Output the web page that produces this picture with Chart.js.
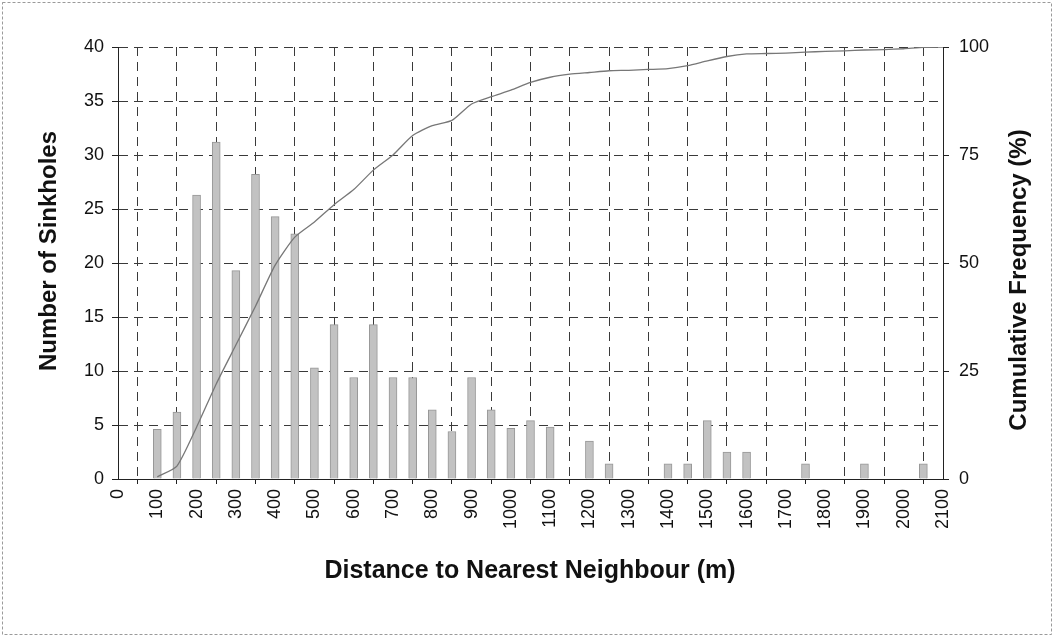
<!DOCTYPE html>
<html>
<head>
<meta charset="utf-8">
<script src="https://cdn.jsdelivr.net/npm/chart.js@4"></script>
<style>
  html, body { margin: 0; padding: 0; background: #fff; }
  canvas { display: block; }
</style>
</head>
<body>
<canvas id="chart" width="1054" height="637"></canvas>
<script>
// bar positions (m) and counts
const distances = [100, 150, 200, 250, 300, 350, 400, 450, 500, 550, 600, 650, 700, 750, 800, 850, 900, 950, 1000, 1050,
    1100, 1150, 1200, 1250, 1300, 1350, 1400, 1450, 1500, 1550, 1600, 1650, 1700, 1750, 1800, 1850, 1900, 1950, 2000, 2050, 2100];
const sinkholes = [4.6, 6.2, 26.3, 31.2, 19.3, 28.2, 24.3, 22.7, 10.3, 14.3, 9.4, 14.3, 9.4, 9.4, 6.4, 4.4, 9.4, 6.4, 4.7, 5.4,
    4.8, 0, 3.5, 1.4, 0, 0, 1.4, 1.4, 5.4, 2.5, 2.5, 0, 0, 1.4, 0, 0, 1.4, 0, 0, 1.4, 0];
// cumulative frequency (%) at the same distances
const cumulative = [0.5, 3, 12, 22, 31, 40, 49.5, 56, 59.5, 63.5, 67, 71.5, 75, 79.5, 81.8, 83, 86.8, 88.5, 90, 91.8,
    93, 93.7, 94.1, 94.5, 94.6, 94.8, 95, 95.7, 96.8, 97.8, 98.4, 98.5, 98.6, 98.8, 99, 99.1, 99.3, 99.4, 99.6, 99.9, 100];

const xTitle = 'Distance to Nearest Neighbour (m)';
const yTitle = 'Number of Sinkholes';
const y2Title = 'Cumulative Frequency (%)';

const FONT = '"Liberation Sans", Arial, sans-serif';

// axis titles + outer frame
const decorations = {
    id: 'decorations',
    beforeDraw(chart) {
        const ctx = chart.ctx;
        ctx.save();
        ctx.fillStyle = '#fff';
        ctx.fillRect(0, 0, chart.width, chart.height);
        ctx.strokeStyle = '#9a9a9a';
        ctx.lineWidth = 1;
        ctx.setLineDash([3, 2]);
        ctx.strokeRect(2.5, 2.5, chart.width - 5, chart.height - 5);
        ctx.restore();
    },
    afterDraw(chart) {
        const ctx = chart.ctx;
        ctx.save();
        ctx.fillStyle = '#111';
        ctx.textAlign = 'center';
        ctx.textBaseline = 'middle';
        ctx.font = 'bold 25px ' + FONT;
        ctx.fillText(xTitle, 530, 571);

        ctx.font = 'bold 24px ' + FONT;
        ctx.save();
        ctx.translate(49, 251);
        ctx.rotate(-Math.PI / 2);
        ctx.fillText(yTitle, 0, 0);
        ctx.restore();

        ctx.save();
        ctx.translate(1019, 280);
        ctx.rotate(-Math.PI / 2);
        ctx.fillText(y2Title, 0, 0);
        ctx.restore();
        ctx.restore();
    }
};

const barData = distances.map((d, i) => ({ x: d, y: sinkholes[i] }));
const lineData = distances.map((d, i) => ({ x: d, y: cumulative[i] }));

new Chart(document.getElementById('chart'), {
    type: 'bar',
    data: {
        datasets: [
            {
                type: 'line',
                data: lineData,
                yAxisID: 'y2',
                borderColor: '#777777',
                borderWidth: 1.3,
                pointRadius: 0,
                tension: 0.2,
                order: 0
            },
            {
                type: 'bar',
                data: barData,
                yAxisID: 'y',
                backgroundColor: '#c2c2c2',
                borderColor: '#979797',
                borderWidth: 1,
                barThickness: 8,
                order: 1
            }
        ]
    },
    options: {
        responsive: false,
        animation: false,
        layout: { padding: { top: 47, left: 0, right: 0, bottom: 0 } },
        plugins: {
            legend: { display: false },
            tooltip: { enabled: false }
        },
        scales: {
            x: {
                type: 'linear',
                offset: false,
                min: 0,
                max: 2100,
                afterFit(scale) { scale.height = 158; },
                ticks: {
                    stepSize: 100,
                    minRotation: 90,
                    maxRotation: 90,
                    autoSkip: false,
                    padding: 5,
                    color: '#111',
                    font: { family: FONT, size: 18 },
                    callback: v => String(v)
                },
                grid: { color: '#3a3a3a', lineWidth: 1, tickLength: 5, tickColor: '#222' },
                border: { display: true, color: '#222', width: 1, dash: [9, 6] }
            },
            y: {
                position: 'left',
                min: 0,
                max: 40,
                afterFit(scale) { scale.width = 118; },
                ticks: {
                    stepSize: 5,
                    padding: 8,
                    color: '#111',
                    font: { family: FONT, size: 18 }
                },
                grid: { color: '#3a3a3a', lineWidth: 1, tickLength: 6, tickColor: '#222' },
                border: { display: true, color: '#222', width: 1, dash: [9, 6] }
            },
            y2: {
                position: 'right',
                min: 0,
                max: 100,
                afterFit(scale) { scale.width = 111; },
                ticks: {
                    stepSize: 25,
                    padding: 10,
                    color: '#111',
                    font: { family: FONT, size: 18 }
                },
                grid: { drawOnChartArea: false, tickLength: 6, tickColor: '#222' },
                border: { display: true, color: '#222', width: 1 }
            }
        }
    },
    plugins: [decorations]
});
</script>
</body>
</html>
